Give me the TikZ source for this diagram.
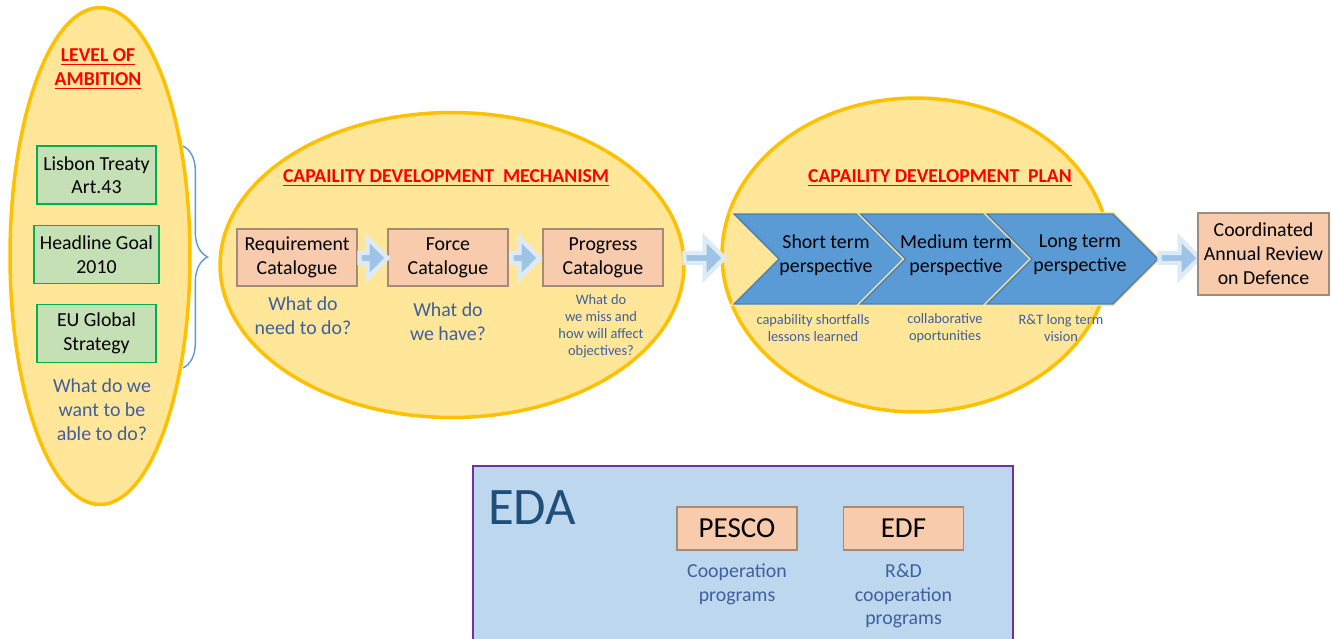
\documentclass[tikz,border=0pt]{standalone}
\usepackage{fontspec}
\setmainfont{Carlito}
\usepackage{xcolor}
\usepackage{tikz}
\usetikzlibrary{shapes.geometric,shapes.arrows,shapes.symbols,decorations.pathreplacing,positioning}

\definecolor{ovalfill}{HTML}{FFE699}
\definecolor{gold}{HTML}{FFC000}
\definecolor{titlered}{HTML}{FF0000}
\definecolor{goalfill}{HTML}{C5E0B4}
\definecolor{goalgreen}{HTML}{00B050}
\definecolor{peach}{HTML}{F8CBAD}
\definecolor{peachedge}{HTML}{A68A78}
\definecolor{askblue}{HTML}{3F5F9F}
\definecolor{chevblue}{HTML}{5B9BD5}
\definecolor{chevedge}{HTML}{4A7FB5}
\definecolor{edafill}{HTML}{BDD7EE}
\definecolor{edapurple}{HTML}{7030A0}
\definecolor{edatext}{HTML}{1F4E79}
\definecolor{arrowblue}{HTML}{9DC3E6}
\definecolor{arrowpale}{HTML}{DEEBF7}

\begin{document}
\begin{tikzpicture}[
    x=0.02cm, y=-0.02cm,
    oval/.style={ellipse, draw=gold, line width=2pt, fill=ovalfill, inner sep=0},
    heading/.style={text=titlered, font=\bfseries\fontsize{11.2}{13.6}\selectfont, align=center},
    goal/.style={rectangle, draw=goalgreen, line width=0.8pt, fill=goalfill, minimum width=2.38cm, minimum height=1.16cm, align=center, font=\fontsize{11.3}{13.4}\selectfont},
    catalogue/.style={rectangle, draw=peachedge, line width=1pt, fill=peach, minimum width=2.4cm, minimum height=1.14cm, align=center, font=\fontsize{11.3}{13.6}\selectfont},
    ask/.style={text=askblue, align=center, font=\fontsize{11.3}{13.6}\selectfont},
    note/.style={text=askblue, align=center, font=\fontsize{8.2}{9.6}\selectfont},
    chev/.style={signal, signal from=west, signal to=east, signal pointer angle=90, fill=chevblue, draw=chevedge, line width=0.8pt, preaction={draw=ovalfill, line width=2.4pt}, minimum width=3.42cm, minimum height=1.8cm, inner sep=0},
    chevtext/.style={align=center, font=\fontsize{11.3}{13.6}\selectfont},
    flow/.style={single arrow, fill=arrowblue, draw=arrowpale, line width=2.5pt, minimum width=0.8cm, single arrow head extend=0.13cm, inner sep=0}
]
\useasboundingbox (0,0) rectangle (1333,639);
\clip (0,0) rectangle (1333,639);

% level of ambition
\node[oval, minimum width=3.6cm, minimum height=9.94cm] (loa) at (100,256) {};
\node[heading] (loatitle) at (98,69) {\underline{LEVEL OF}\\\underline{AMBITION}};
\node[goal] (lisbon) at (96.5,175) {Lisbon Treaty\\Art.43};
\node[goal] (headline) at (96.5,254.5) {Headline Goal\\2010};
\node[goal] (global) at (96.5,333.5) {EU Global\\Strategy};
\node[ask] (loaask) at (102,410) {What do we\\want to be\\able to do?};
\draw[chevblue, line width=0.8pt, decorate, decoration={brace, amplitude=14pt}] (183,146) -- (183,368);

% mechanism
\node[oval, minimum width=9.28cm, minimum height=6.1cm] (cdm) at (452,265) {};
\node[heading] (cdmtitle) at (446,178) {\underline{CAPAILITY DEVELOPMENT\ \ MECHANISM}};
\node[catalogue] (req) at (297,257.5) {Requirement\\Catalogue};
\node[catalogue] (force) at (448,257.5) {Force\\Catalogue};
\node[catalogue] (progress) at (603,257.5) {Progress\\Catalogue};
\node[flow, minimum height=0.56cm] (f1) at (371,258) {};
\node[flow, minimum height=0.56cm] (f2) at (523,258) {};
\node[ask] (reqask) at (303,316) {What do\\need to do?};
\node[ask] (forceask) at (448,322) {What do\\we have?};
\node[note] (progressask) at (601,326) {What do\\we miss and\\how will affect\\objectives?};

% plan
\node[oval, minimum width=7.76cm, minimum height=6.28cm] (cdp) at (916,255) {};
\node[heading] (cdptitle) at (940,178) {\underline{CAPAILITY DEVELOPMENT\ \ PLAN}};
\node[flow, minimum height=0.8cm] (f3) at (702,258) {};
\node[chev] (short) at (819.5,259) {};
\node[chev] (medium) at (946,259) {};
\node[chev] (long) at (1072.5,259) {};
\node[chevtext] at (826,255) {Short term\\perspective};
\node[chevtext] at (956,255) {Medium term\\perspective};
\node[chevtext] at (1080,255) {Long term\\perspective};
\node[note] (shortnote) at (813,328) {capability shortfalls\\lessons learned};
\node[note] (mediumnote) at (945,328) {collaborative\\oportunities};
\node[note] (longnote) at (1061,328) {R\&T long term\\vision};
\node[flow, minimum height=0.8cm] (f4) at (1177,258) {};
\node[catalogue, minimum width=2.46cm, minimum height=1.64cm] (card) at (1263.5,254) {Coordinated\\Annual Review\\on Defence};

% EDA
\node[rectangle, draw=edapurple, line width=0.8pt, fill=edafill, minimum width=10.8cm, minimum height=3.6cm] (eda) at (743,556) {};
\node[text=edatext, font=\fontsize{30}{36}\selectfont] (edatitle) at (532,508) {EDA};
\node[catalogue, minimum height=0.86cm, font=\fontsize{16.5}{18}\selectfont] (pesco) at (737,528.5) {PESCO};
\node[catalogue, minimum height=0.86cm, font=\fontsize{16.5}{18}\selectfont] (edf) at (903.5,528.5) {EDF};
\node[ask] (pescoask) at (737,584) {Cooperation\\programs};
\node[ask] (edfask) at (903.5,596) {R\&D\\cooperation\\programs};
\end{tikzpicture}
\end{document}
